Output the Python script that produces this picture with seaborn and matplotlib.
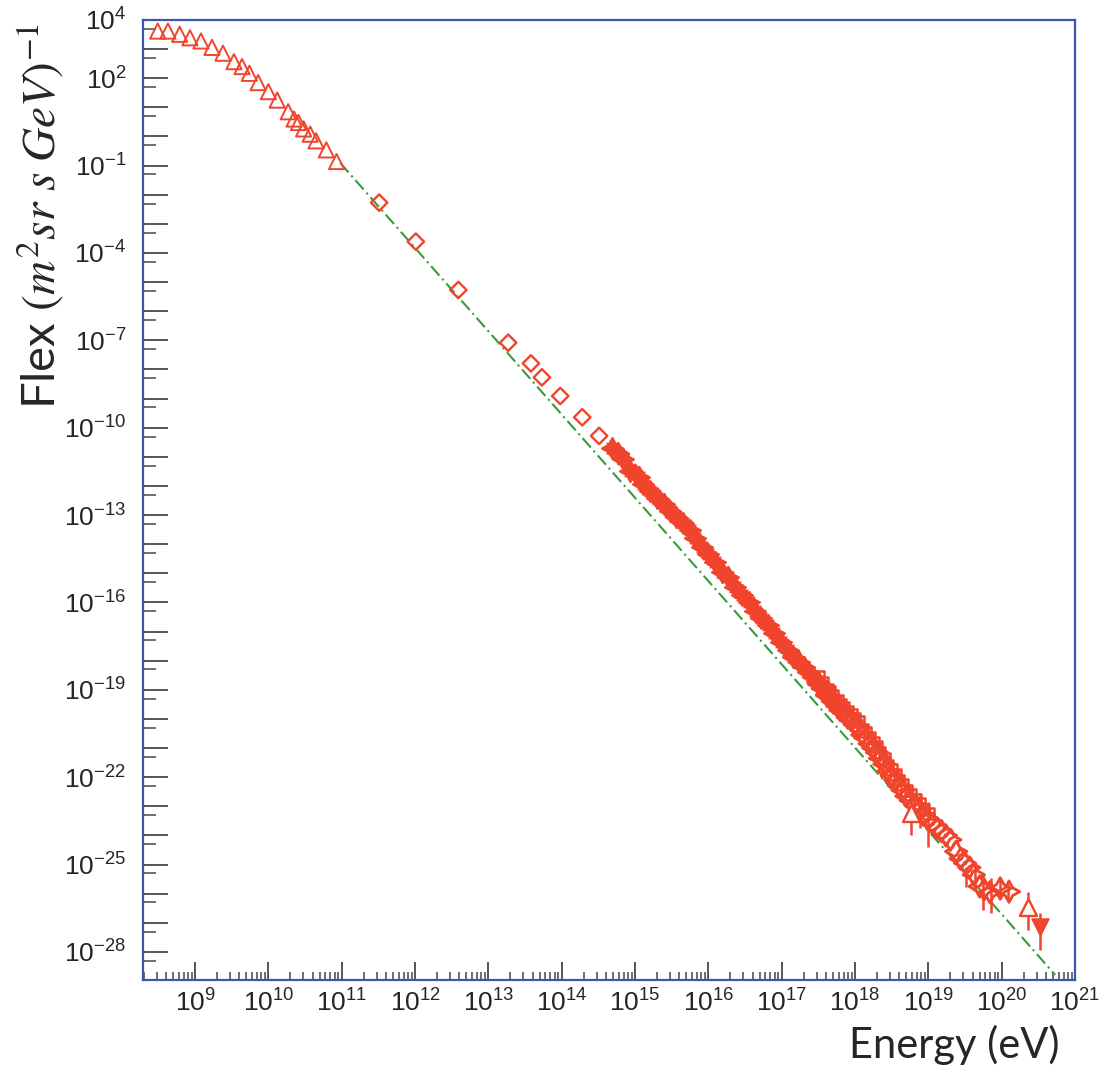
import numpy as np
import matplotlib
matplotlib.use('Agg')
import matplotlib.pyplot as plt
import matplotlib.ticker as mticker
import seaborn as sns

sns.set_style('white')
plt.rcParams['font.family'] = ['Liberation Sans', 'DejaVu Sans']
plt.rcParams['mathtext.fontset'] = 'stix'

RED = '#f0442c'
GREEN = '#3a9a3a'
FRAME = '#3a56b4'

# ---- data (log10 of energy in eV, log10 of flux) ----
tri_logE = [8.49, 8.63, 8.79, 8.93, 9.08, 9.23, 9.38, 9.53, 9.64, 9.74, 9.86,
            10.00, 10.12, 10.27, 10.35, 10.41, 10.48, 10.57, 10.65, 10.79, 10.93]
tri_logF = [3.62, 3.62, 3.51, 3.39, 3.28, 3.06, 2.86, 2.57, 2.40, 2.17, 1.85,
            1.54, 1.25, 0.85, 0.60, 0.48, 0.26, 0.08, -0.15, -0.46, -0.86]

dia_logE = [11.51, 12.01, 12.59, 13.27, 13.58, 13.73, 13.98, 14.28, 14.51, 14.80, 15.00]
dia_logF = [-2.27, -3.61, -5.27, -7.08, -7.79, -8.27, -8.91, -9.64, -10.28, -10.95, -11.55]

star_logE = [14.68, 14.77, 14.84, 14.93, 15.05, 15.11, 15.20, 15.30, 15.39, 15.48,
             15.56, 15.65, 15.75, 15.82, 15.91, 16.00, 16.09, 16.18, 16.27, 16.36,
             16.46, 16.55, 16.63, 16.72, 16.81, 16.90, 16.99, 17.08, 17.16, 17.23,
             17.30, 17.36, 17.43, 17.49, 17.55, 17.61, 17.68, 17.75]
star_logF = [-10.71, -10.88, -11.08, -11.48, -11.68, -11.93, -12.16, -12.42, -12.62, -12.85,
             -13.08, -13.26, -13.51, -13.80, -14.11, -14.34, -14.60, -14.94, -15.14, -15.48,
             -15.74, -15.97, -16.28, -16.54, -16.77, -17.06, -17.35, -17.63, -17.86, -18.03,
             -18.20, -18.38, -18.55, -18.80, -18.95, -19.15, -19.35, -19.55]

hi_logE = [17.50, 17.56, 17.62, 17.66, 17.70, 17.76, 17.80, 17.85, 17.90, 17.95,
           18.00, 18.05, 18.10, 18.14, 18.20, 18.25, 18.30, 18.34, 18.40, 18.45,
           18.50, 18.55, 18.60, 18.65, 18.70, 18.76, 18.82, 18.88, 18.94, 19.00,
           19.06, 19.12, 19.18, 19.24, 19.30, 19.38, 19.44, 19.50, 19.56, 19.62,
           19.70, 19.76, 19.84, 19.98, 20.10]
hi_logF = [-18.75, -18.95, -19.20, -19.25, -19.40, -19.55, -19.70, -19.80, -19.95, -20.05,
           -20.20, -20.30, -20.55, -20.65, -20.85, -21.00, -21.15, -21.35, -21.55, -21.80,
           -21.95, -22.10, -22.30, -22.45, -22.65, -22.80, -22.95, -23.10, -23.30, -23.45,
           -23.60, -23.75, -23.85, -24.00, -24.15, -24.55, -24.80, -24.95, -25.10, -25.35,
           -25.75, -25.85, -25.95, -25.82, -25.93]

err_logE = [18.77, 18.89, 18.99, 19.52, 19.64, 19.75, 19.86, 19.98, 20.09, 20.36, 20.52]
err_logF = [-23.24, -23.12, -23.40, -25.36, -25.40, -25.87, -25.99, -25.81, -25.93, -26.45, -27.13]
err_lo = [-23.98, -23.74, -24.39, -25.77, -25.80, -26.56, -26.67, -26.07, -26.20, -27.24, -27.93]
err_hi = [-22.78, -22.54, -22.85, -25.08, -25.08, -25.35, -25.45, -25.45, -25.65, -25.94, -26.66]

up_tri_logE = [18.77, 20.36]
up_tri_logF = [-23.24, -26.45]
down_tri_logE = [20.52]
down_tri_logF = [-27.13]

fit_logE = [10.98, 20.73]
fit_logF = [-0.91, -28.79]


def p10(v):
    return 10.0 ** np.asarray(v)


fig = plt.figure(figsize=(11.07, 10.81), dpi=100)
ax = fig.add_axes([0.1292, 0.0935, 0.8419, 0.8880])
ax.set_xscale('log')
ax.set_yscale('log')

# fitted power law
ax.plot(p10(fit_logE), p10(fit_logF), color=GREEN, lw=1.5, ls=(0, (6, 2, 1, 2)), zorder=1)

# error bars
lo = p10(err_logF) - p10(err_lo)
hi = p10(err_hi) - p10(err_logF)
ax.errorbar(p10(err_logE), p10(err_logF), yerr=[lo, hi], fmt='none',
            ecolor=RED, elinewidth=1.8, capsize=0, zorder=2)

sns.scatterplot(x=p10(tri_logE), y=p10(tri_logF), ax=ax, marker='^', s=120,
                facecolor='none', edgecolor=RED, linewidth=1.4, zorder=3)
sns.scatterplot(x=p10(dia_logE), y=p10(dia_logF), ax=ax, marker='D', s=70,
                facecolor='none', edgecolor=RED, linewidth=1.7, zorder=3)
sns.scatterplot(x=p10(star_logE), y=p10(star_logF), ax=ax, marker=(4, 1, 0), s=230,
                color=RED, edgecolor=RED, linewidth=1.5, zorder=3)
sns.scatterplot(x=p10(star_logE), y=p10(star_logF), ax=ax, marker=(4, 1, 45), s=120,
                color=RED, edgecolor=RED, linewidth=1.0, zorder=3)
sns.scatterplot(x=p10(hi_logE), y=p10(hi_logF), ax=ax, marker=(4, 1, 0), s=240,
                facecolor='none', edgecolor=RED, linewidth=2.0, zorder=3)
sns.scatterplot(x=p10(hi_logE[:30]), y=p10(hi_logF[:30]) * 1.6, ax=ax, marker='s', s=60,
                facecolor='none', edgecolor=RED, linewidth=1.8, zorder=3)
sns.scatterplot(x=p10(up_tri_logE), y=p10(up_tri_logF), ax=ax, marker='^', s=150,
                facecolor='white', edgecolor=RED, linewidth=1.7, zorder=4)
sns.scatterplot(x=p10(down_tri_logE), y=p10(down_tri_logF), ax=ax, marker='v', s=150,
                color=RED, edgecolor=RED, linewidth=1.0, zorder=4)

ax.set_xlim(10 ** 8.29, 1e21)
ax.set_ylim(10 ** -28.96, 1e4)

# ticks
ax.xaxis.set_major_locator(mticker.LogLocator(base=10, numticks=30))
ax.xaxis.set_minor_locator(mticker.LogLocator(base=10, subs=np.arange(2, 10), numticks=30))
ax.xaxis.set_minor_formatter(mticker.NullFormatter())
ax.xaxis.set_major_formatter(mticker.FuncFormatter(
    lambda v, p: r'$\mathregular{10^{%d}}$' % round(np.log10(v))))

ylab_exps = [4, 2, -1, -4, -7, -10, -13, -16, -19, -22, -25, -28]
ax.yaxis.set_major_locator(mticker.LogLocator(base=10, numticks=40))
ax.yaxis.set_minor_locator(mticker.LogLocator(base=10, subs=[5], numticks=40))
ax.yaxis.set_minor_formatter(mticker.NullFormatter())


def yfmt(v, p):
    e = int(round(np.log10(v)))
    return r'$\mathregular{10^{%d}}$' % e if e in ylab_exps else ''


ax.yaxis.set_major_formatter(mticker.FuncFormatter(yfmt))

ax.tick_params(axis='x', which='major', direction='in', length=13, width=1.4,
               color='#555555', labelsize=19, pad=7, bottom=True)
ax.tick_params(axis='x', which='minor', direction='in', length=6, width=1.2,
               color='#555555', bottom=True)
ax.tick_params(axis='y', which='major', direction='in', length=18, width=1.4,
               color='#555555', labelsize=19, pad=12, left=True)
ax.tick_params(axis='y', which='minor', direction='in', length=9, width=1.2,
               color='#555555', left=True)

for s in ax.spines.values():
    s.set_color(FRAME)
    s.set_linewidth(1.6)
    s.set_visible(True)

fig.text(0.036, 0.80, r'Flex $(m^2 sr\ s\ GeV)^{-1}$', rotation=90, fontsize=34,
         family='Lato', ha='center', va='center')
fig.text(0.957, 0.033, 'Energy (eV)', fontsize=30, family='Lato', ha='right', va='center')

fig.savefig('out.png', dpi=100)
